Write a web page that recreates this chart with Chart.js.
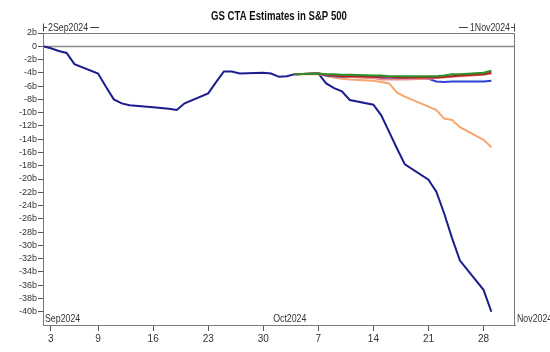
<!DOCTYPE html>
<html>
<head>
<meta charset="utf-8">
<script src="https://cdn.jsdelivr.net/npm/chart.js@4"></script>
<style>
  html, body { margin: 0; padding: 0; background: #fff; }
  canvas { display: block; }
</style>
</head>
<body>
<canvas id="ctaChart" width="550" height="352"></canvas>
<script>
// business days shown on the chart
const dates = [
  '2024-09-02', '2024-09-03', '2024-09-04', '2024-09-05', '2024-09-06',
  '2024-09-09', '2024-09-10', '2024-09-11', '2024-09-12', '2024-09-13',
  '2024-09-16', '2024-09-17', '2024-09-18', '2024-09-19', '2024-09-20',
  '2024-09-23', '2024-09-24', '2024-09-25', '2024-09-26', '2024-09-27',
  '2024-09-30', '2024-10-01', '2024-10-02', '2024-10-03', '2024-10-04',
  '2024-10-07', '2024-10-08', '2024-10-09', '2024-10-10', '2024-10-11',
  '2024-10-14', '2024-10-15', '2024-10-16', '2024-10-17', '2024-10-18',
  '2024-10-21', '2024-10-22', '2024-10-23', '2024-10-24', '2024-10-25',
  '2024-10-28', '2024-10-29'
];

// main estimate (bn)
const navyValues = [
  0, -0.3, -0.7, -1.0, -2.7,
  -4.1, -6.1, -8.0, -8.6, -8.9,
  -9.2, -9.3, -9.4, -9.6, -8.6,
  -7.1, -5.4, -3.8, -3.8, -4.1,
  -4.0, -4.1, -4.6, -4.5, -4.2,
  -4.1, -5.6, -6.3, -6.8, -8.1,
  -8.8, -10.4, -12.9, -15.4, -17.8,
  -20.1, -21.9, -25.2, -28.9, -32.3,
  -36.7, -40.0
];

// scenario lines start on 4 Oct
const scenarioDates = dates.slice(24);
const greenValues  = [-4.2, -4.1, -4.2, -4.2, -4.3, -4.3, -4.4, -4.4, -4.5, -4.5, -4.5, -4.5, -4.5, -4.4, -4.2, -4.2, -4.0, -3.7];
const redValues    = [-4.2, -4.1, -4.3, -4.4, -4.5, -4.5, -4.6, -4.6, -4.6, -4.7, -4.7, -4.7, -4.7, -4.6, -4.5, -4.4, -4.2, -4.0];
const pinkValues   = [-4.2, -4.1, -4.3, -4.4, -4.5, -4.6, -4.8, -5.0, -5.0, -5.0, -5.0, -4.9, -4.8, -4.7, -4.6, -4.5, -4.3, -4.1];
const blueValues   = [-4.2, -4.1, -4.4, -4.5, -4.6, -4.6, -4.7, -4.8, -4.9, -4.9, -4.9, -4.9, -5.3, -5.4, -5.3, -5.3, -5.3, -5.2];
const orangeValues = [-4.2, -4.2, -4.5, -4.7, -4.9, -5.0, -5.2, -5.4, -5.6, -7.0, -7.6, -9.1, -9.6, -10.9, -11.1, -12.2, -14.1, -15.2];

const xStart = '2024-09-02';
const xEnd = '2024-11-01';
const xTickDates = ['2024-09-03', '2024-09-09', '2024-09-16', '2024-09-23', '2024-09-30',
                    '2024-10-07', '2024-10-14', '2024-10-21', '2024-10-28'];
const yTickValues = [2, 0, -2, -4, -6, -8, -10, -12, -14, -16, -18, -20, -22, -24, -26, -28,
                     -30, -32, -34, -36, -38, -40];
const monthLabels = [
  { date: '2024-09-01', text: 'Sep2024' },
  { date: '2024-10-01', text: 'Oct2024' },
  { date: '2024-11-01', text: 'Nov2024' }
];
const titleText = 'GS CTA Estimates in S&P 500';

const FONT = "'Liberation Sans Narrow', 'Liberation Sans', Arial, sans-serif";
const NARROW = 0.8; // squeeze for hand-drawn captions
const DAY = 86400000;
const day0 = Date.parse(xStart);
function dayIndex(d) { return Math.round((Date.parse(d) - day0) / DAY); }
function toPoints(ds, vals) { return ds.map((d, i) => ({ x: dayIndex(d), y: vals[i] })); }

function line(label, ds, vals, color, width) {
  return {
    label: label,
    data: toPoints(ds, vals),
    borderColor: color,
    backgroundColor: color,
    borderWidth: width,
    pointRadius: 0,
    tension: 0,
    fill: false
  };
}

// draws text squeezed horizontally, returns drawn width
function narrowText(ctx, text, x, y, align) {
  const w = ctx.measureText(text).width * NARROW;
  let left = x;
  if (align === 'center') left = x - w / 2;
  if (align === 'right') left = x - w;
  ctx.save();
  ctx.textAlign = 'left';
  ctx.translate(left, y);
  ctx.scale(NARROW, 1);
  ctx.fillText(text, 0, 0);
  ctx.restore();
  return w;
}

// frame, zero line, title, date captions
const decorPlugin = {
  id: 'decor',
  beforeDatasetsDraw(chart) {
    const { ctx, chartArea: a, scales: { y } } = chart;
    ctx.save();
    ctx.strokeStyle = '#8a8a8a';
    ctx.lineWidth = 1.5;
    const y0 = Math.round(y.getPixelForValue(0)) + 0.5;
    ctx.beginPath();
    ctx.moveTo(a.left, y0);
    ctx.lineTo(a.right, y0);
    ctx.stroke();
    ctx.restore();
  },
  afterDraw(chart) {
    const { ctx, chartArea: a, scales: { x } } = chart;
    ctx.save();
    ctx.strokeStyle = '#7a7a7a';
    ctx.lineWidth = 1;
    ctx.strokeRect(a.left + 0.5, a.top + 0.5, a.right - a.left - 1, a.bottom - a.top);

    // title
    ctx.fillStyle = '#111';
    ctx.font = 'bold 12px ' + FONT;
    ctx.textBaseline = 'middle';
    narrowText(ctx, titleText, (a.left + a.right) / 2, 17, 'center');

    // range captions above the frame
    ctx.font = '11px ' + FONT;
    ctx.fillStyle = '#333';
    ctx.strokeStyle = '#444';
    const cy = 27.5;
    const xl = x.getPixelForValue(dayIndex(xStart));
    const xr = x.getPixelForValue(dayIndex(xEnd));
    const wl = narrowText(ctx, '2Sep2024', xl + 5, cy, 'left');
    const wr = narrowText(ctx, '1Nov2024', xr - 5, cy, 'right');
    ctx.beginPath();
    ctx.moveTo(xl + 0.5, cy - 4); ctx.lineTo(xl + 0.5, cy + 4);
    ctx.moveTo(xl, cy); ctx.lineTo(xl + 4, cy);
    ctx.moveTo(xl + 7 + wl, cy); ctx.lineTo(xl + 16 + wl, cy);
    ctx.moveTo(xr - 0.5, cy - 4); ctx.lineTo(xr - 0.5, cy + 4);
    ctx.moveTo(xr, cy); ctx.lineTo(xr - 4, cy);
    ctx.moveTo(xr - 7 - wr, cy); ctx.lineTo(xr - 16 - wr, cy);
    ctx.stroke();

    // month captions along the bottom
    ctx.textBaseline = 'alphabetic';
    monthLabels.forEach(m => {
      let px = x.getPixelForValue(Date.parse(m.date) / DAY - day0 / DAY);
      px = Math.max(px, a.left) + 2;
      narrowText(ctx, m.text, px, a.bottom - 3, 'left');
    });
    ctx.restore();
  }
};

new Chart(document.getElementById('ctaChart').getContext('2d'), {
  type: 'line',
  data: {
    datasets: [
      line('Green', scenarioDates, greenValues, '#2f8f2a', 2),
      line('Red', scenarioDates, redValues, '#b42222', 2),
      line('Pink', scenarioDates, pinkValues, '#f08c8c', 2),
      line('Blue', scenarioDates, blueValues, '#2f42d2', 2),
      line('Orange', scenarioDates, orangeValues, '#f7a66e', 2),
      line('Estimate', dates, navyValues, '#1c1c8c', 2)
    ]
  },
  options: {
    responsive: false,
    animation: false,
    layout: { padding: { top: 33, right: 35, left: 0, bottom: 0 } },
    plugins: {
      legend: { display: false },
      title: { display: false },
      tooltip: { enabled: false }
    },
    scales: {
      x: {
        type: 'linear',
        min: dayIndex(xStart),
        max: dayIndex(xEnd),
        afterBuildTicks: axis => { axis.ticks = xTickDates.map(d => ({ value: dayIndex(d) })); },
        afterFit: axis => { axis.height = 27; },
        grid: { drawOnChartArea: false, tickLength: 6, color: '#555' },
        border: { color: '#7a7a7a' },
        ticks: {
          autoSkip: false,
          maxRotation: 0,
          padding: 2,
          color: '#333',
          font: { family: FONT, size: 10 },
          callback: v => new Date(day0 + v * DAY).getUTCDate()
        }
      },
      y: {
        min: -42,
        max: 2,
        afterBuildTicks: axis => { axis.ticks = yTickValues.map(v => ({ value: v })); },
        afterFit: axis => { axis.width = 43; },
        grid: { drawOnChartArea: false, tickLength: 5, color: '#555' },
        border: { color: '#7a7a7a' },
        ticks: {
          autoSkip: false,
          padding: 1,
          color: '#333',
          font: { family: FONT, size: 9 },
          callback: v => (v === 0 ? '0' : v + 'b')
        }
      }
    }
  },
  plugins: [decorPlugin]
});
</script>
</body>
</html>
